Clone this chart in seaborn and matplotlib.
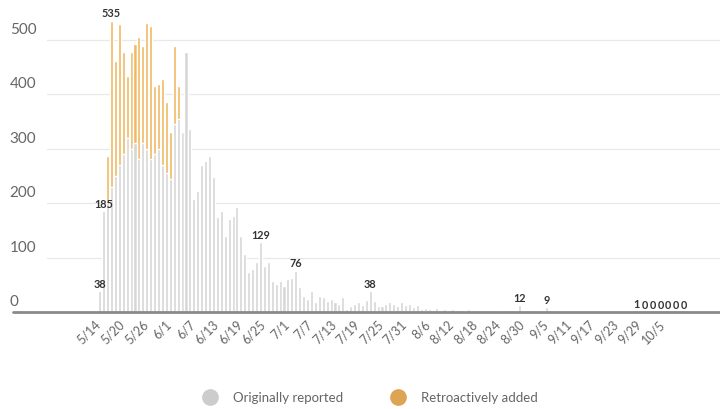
import matplotlib
matplotlib.use('Agg')
import matplotlib.pyplot as plt
import matplotlib.transforms as mtransforms
from matplotlib.lines import Line2D
import seaborn as sns
import pandas as pd

# valores diarios a partir de 5/14
originally_reported = [
    38, 185, 200, 230, 250, 270, 290, 320, 300, 310,
    280, 310, 300, 280, 290, 300, 270, 255, 245, 345,
    355, 330, 477, 336, 207, 222, 270, 277, 286, 248,
    174, 185, 140, 170, 176, 193, 140, 106, 73, 79,
    92, 129, 85, 92, 57, 51, 57, 48, 60, 62,
    76, 45, 30, 24, 39, 18, 30, 27, 20, 24,
    18, 15, 27, 5, 11, 15, 18, 12, 22, 38,
    20, 11, 11, 15, 18, 15, 11, 18, 12, 14,
    9, 12, 6, 8, 5, 4, 7, 3, 5, 4,
    6, 3, 4, 2, 5, 3, 2, 4, 3, 2,
    3, 2, 1, 2, 3, 1, 2, 12, 2, 1,
    3, 2, 1, 2, 9, 1, 2, 0, 1, 1,
    0, 2, 0, 1, 0, 1, 0, 0, 1, 0,
    0, 1, 0, 0, 0, 1, 0, 1, 0, 0,
    0, 0, 0, 0, 0, 0, 0, 0, 0, 0,
]
retroactively_added = [
    0, 0, 86, 305, 211, 258, 187, 113, 177, 182,
    224, 178, 230, 245, 125, 118, 157, 130, 85, 143,
    60,
] + [0] * (len(originally_reported) - 21)

tick_labels = ['5/14', '5/20', '5/26', '6/1', '6/7', '6/13', '6/19', '6/25',
               '7/1', '7/7', '7/13', '7/19', '7/25', '7/31', '8/6', '8/12',
               '8/18', '8/24', '8/30', '9/5', '9/11', '9/17', '9/23', '9/29',
               '10/5']
y_ticks = [0, 100, 200, 300, 400, 500]

# dias com rotulo (indice a partir de 5/14)
labeled_days = [0, 1, 3, 41, 50, 69, 107, 114, 137, 139, 141, 143, 145, 147, 149]

GRAY = '#d6d6d6'
ORANGE = '#efb862'
ORANGE_DOT = '#dca453'
TXT = '#666666'

df = pd.DataFrame({'day': range(len(originally_reported)),
                   'orig': originally_reported,
                   'added': retroactively_added})
df['total'] = df['orig'] + df['added']

sns.set_style('white')
plt.rcParams['font.family'] = ['Lato', 'DejaVu Sans']

fig = plt.figure(figsize=(7.2, 4.1), dpi=100)
ax = fig.add_axes([0.065, 0.2366, 0.935, 0.7439])

sns.barplot(data=df, x='day', y='total', native_scale=True, color=ORANGE,
            saturation=1, width=0.78, errorbar=None, ax=ax, zorder=2)
sns.barplot(data=df, x='day', y='orig', native_scale=True, color=GRAY,
            saturation=1, width=0.78, errorbar=None, ax=ax, zorder=3)

ax.set_xlim(-13.5, 158.2)
ax.set_ylim(0, 560)
ax.set_xlabel('')
ax.set_ylabel('')
for s in ax.spines.values():
    s.set_visible(False)

# grade horizontal
for yv in y_ticks[1:]:
    ax.axhline(yv, color='#e8e8e8', lw=0.9, zorder=0)
ax.plot([-0.05, 1.0], [0, 0], transform=ax.transAxes, color='#8a8a8a',
        lw=2, clip_on=False, zorder=5)

ax.set_yticks([])
for yv in y_ticks:
    ax.text(-0.055, yv + 7, str(yv), transform=ax.get_yaxis_transform(),
            ha='left', va='bottom', fontsize=11, color=TXT)

ax.set_xticks([i * 6 for i in range(len(tick_labels))])
ax.set_xticklabels(tick_labels, rotation=45, ha='right',
                   rotation_mode='anchor', fontsize=9, color=TXT)
ax.tick_params(axis='x', length=0, pad=4)
shift = mtransforms.ScaledTranslation(-5 / 100, 0, fig.dpi_scale_trans)
for lbl in ax.get_xticklabels():
    lbl.set_transform(lbl.get_transform() + shift)

for d in labeled_days:
    ax.text(d, df['total'][d] + 4, str(df['total'][d]), ha='center',
            va='bottom', fontsize=7.8, fontweight='bold', color='#333333',
            zorder=6)

handles = [Line2D([], [], marker='o', ls='', color='#cccccc', markersize=11),
           Line2D([], [], marker='o', ls='', color=ORANGE_DOT, markersize=11)]
fig.legend(handles, ['Originally reported', 'Retroactively added'],
           loc='lower center', bbox_to_anchor=(0.51, -0.015), ncol=2,
           frameon=False, fontsize=9.5, labelcolor=TXT, columnspacing=3.2,
           handletextpad=0.7)

fig.savefig('out.png', dpi=100)
